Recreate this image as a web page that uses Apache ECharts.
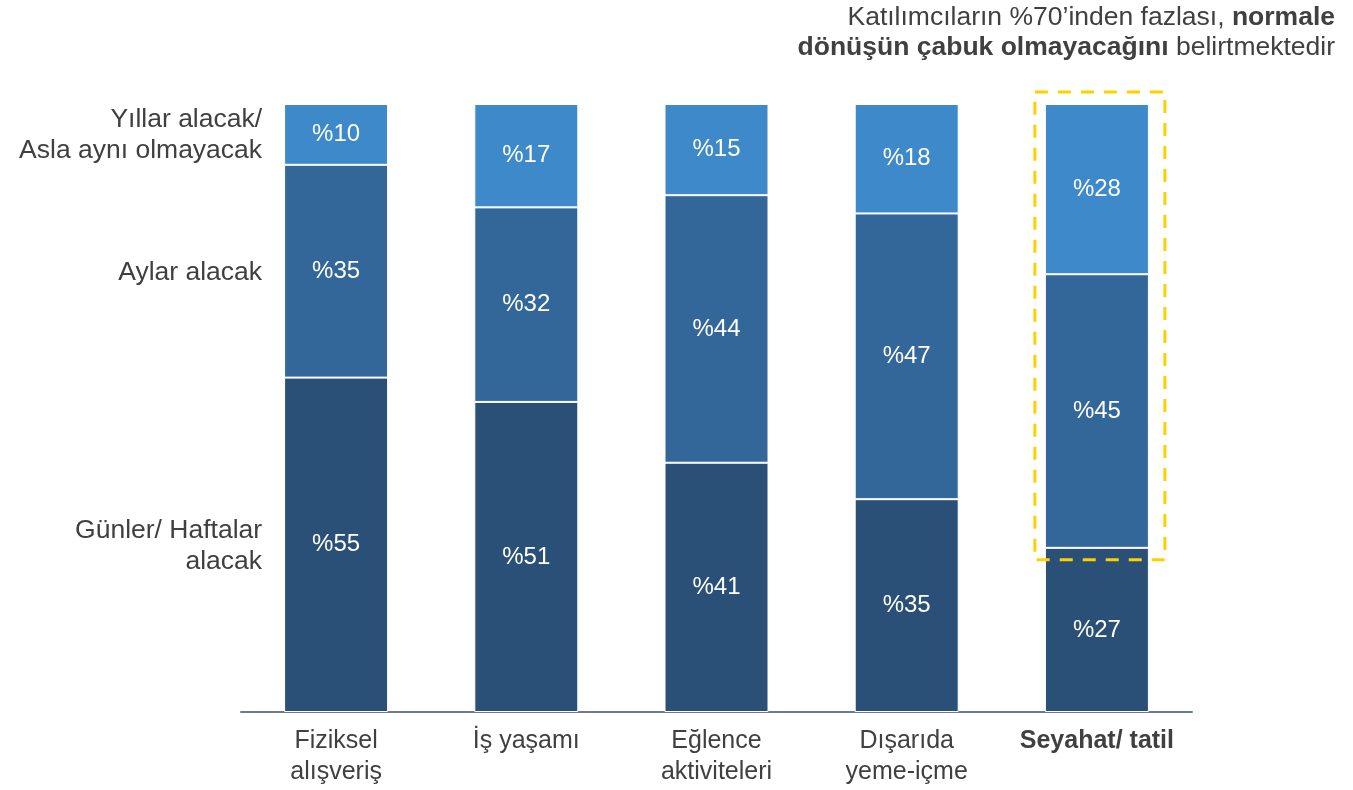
<!DOCTYPE html>
<html>
<head>
<meta charset="utf-8">
<script src="https://cdn.jsdelivr.net/npm/echarts@6/dist/echarts.min.js"></script>
<style>
  html, body { margin: 0; padding: 0; background: #fff; }
  #chart { width: 1353px; height: 790px; }
</style>
</head>
<body>
<div id="chart"></div>
<script>
var categories = ["Fiziksel\nalışveriş", "İş yaşamı", "Eğlence\naktiviteleri", "Dışarıda\nyeme-içme", "Seyahat/ tatil"];
var seriesNames = ["Günler/ Haftalar\nalacak", "Aylar alacak", "Yıllar alacak/\nAsla aynı olmayacak"];
var gunlerData = [55, 51, 41, 35, 27];
var aylarData = [35, 32, 44, 47, 45];
var yillarData = [10, 17, 15, 18, 28];
var highlightIndex = 4;

var font = "Liberation Sans, Arial, sans-serif";
var textColor = "#404040";
var colors = ["#2b5077", "#336699", "#3d89c9"];

var chart = echarts.init(document.getElementById("chart"));

function makeSeries(name, data, color) {
  return {
    name: name,
    type: "bar",
    stack: "total",
    barWidth: 104,
    data: data,
    itemStyle: {
      color: color,
      borderColor: "#ffffff",
      borderWidth: 1
    },
    label: {
      show: true,
      position: "inside",
      color: "#ffffff",
      fontSize: 24,
      fontFamily: font,
      formatter: function (p) {
        return "%" + p.value;
      }
    },
    emphasis: { disabled: true }
  };
}

chart.setOption({
  animation: false,
  grid: {
    left: 241,
    right: 161,
    top: 104,
    bottom: 78
  },
  xAxis: {
    type: "category",
    data: categories,
    axisTick: { show: false },
    axisLine: { lineStyle: { color: "#6b7a8f", width: 2 } },
    axisLabel: {
      interval: 0,
      margin: 14,
      fontSize: 25,
      fontFamily: font,
      color: textColor,
      lineHeight: 31,
      formatter: function (val, idx) {
        if (idx === highlightIndex) return "{b|" + val + "}";
        return val;
      },
      rich: {
        b: { fontSize: 25, fontFamily: font, color: textColor, fontWeight: "bold", lineHeight: 31 }
      }
    }
  },
  yAxis: {
    type: "value",
    min: 0,
    max: 100,
    show: false
  },
  series: [
    makeSeries(seriesNames[0], gunlerData, colors[0]),
    makeSeries(seriesNames[1], aylarData, colors[1]),
    makeSeries(seriesNames[2], yillarData, colors[2])
  ]
});

var graphics = [];

// headline, top right
graphics.push({
  type: "text",
  x: 1335,
  y: 3,
  style: {
    text: "{n|Katılımcıların %70’inden fazlası, }{b|normale}\n{b|dönüşün çabuk olmayacağını}{n| belirtmektedir}",
    align: "right",
    verticalAlign: "top",
    rich: {
      n: { fontSize: 26.5, fontFamily: font, fill: textColor, lineHeight: 30 },
      b: { fontSize: 26.5, fontFamily: font, fill: textColor, fontWeight: "bold", lineHeight: 30 }
    }
  }
});

// row labels to the left of the first bar
var cum = 0;
var allData = [gunlerData, aylarData, yillarData];
for (var i = 0; i < allData.length; i++) {
  var v = allData[i][0];
  var mid = chart.convertToPixel({ gridIndex: 0 }, [0, cum + v / 2]);
  cum += v;
  graphics.push({
    type: "text",
    x: mid[0] - 52 - 22,
    y: mid[1] + 1,
    style: {
      text: seriesNames[i],
      fontSize: 26.5,
      fontFamily: font,
      fill: textColor,
      align: "right",
      verticalAlign: "middle",
      lineHeight: 31
    }
  });
}

// dashed highlight around the upper two segments of the last bar
var hiTop = chart.convertToPixel({ gridIndex: 0 }, [highlightIndex, 100]);
var hiBottom = chart.convertToPixel({ gridIndex: 0 }, [highlightIndex, gunlerData[highlightIndex]]);
graphics.push({
  type: "rect",
  shape: {
    x: hiTop[0] - 62,
    y: hiTop[1] - 12,
    width: 130,
    height: hiBottom[1] - hiTop[1] + 24
  },
  style: {
    fill: "none",
    stroke: "#ffd000",
    lineWidth: 3,
    lineDash: [13, 10]
  },
  z: 100
});

chart.setOption({ graphic: graphics });
</script>
</body>
</html>
